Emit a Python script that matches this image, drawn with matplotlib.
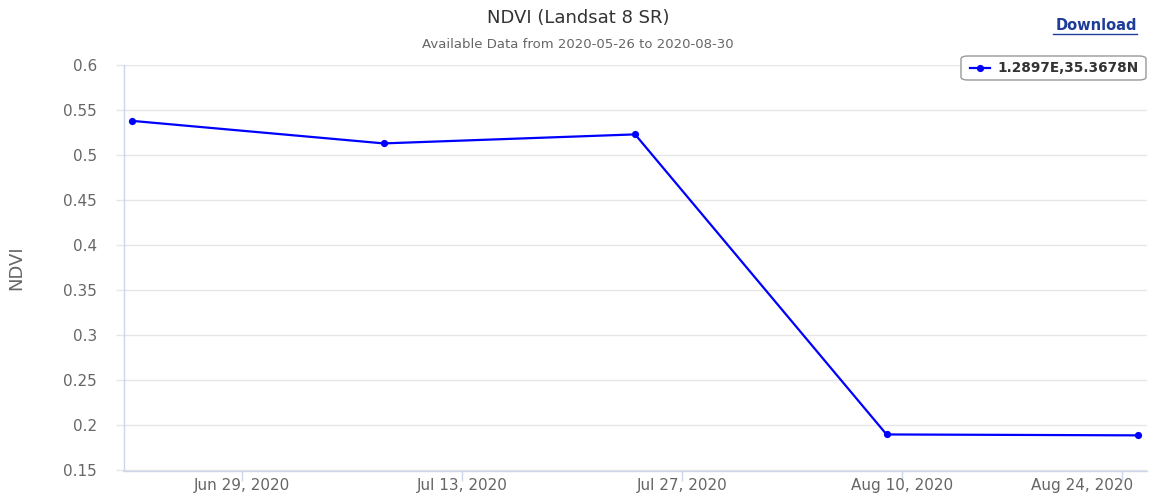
import matplotlib
matplotlib.use("Agg")
import matplotlib.pyplot as plt
import matplotlib.dates as mdates
import matplotlib.transforms as mtransforms
from matplotlib.lines import Line2D
from matplotlib.patches import FancyBboxPatch
from matplotlib.ticker import FuncFormatter, MultipleLocator
import numpy as np
import pandas as pd

## Data
dates = ["2020-06-22", "2020-07-08", "2020-07-24", "2020-08-09", "2020-08-25"]
ndvi = [0.538, 0.513, 0.523, 0.190, 0.189]
tick_dates = ["2020-06-29", "2020-07-13", "2020-07-27", "2020-08-10", "2020-08-24"]
series_name = "1.2897E,35.3678N"
title = "NDVI (Landsat 8 SR)"
subtitle = "Available Data from 2020-05-26 to 2020-08-30"

W, H = 1152, 493
plt.rcParams["font.family"] = ["DejaVu Sans"]

fig = plt.figure(figsize=(W / 100, H / 100), dpi=100)
fig.patch.set_facecolor("white")

# plot area in pixels: left 123.5, right 1147, top 65, bottom 470.5
left, right, top, bottom = 123.5, 1147, 65, 470.5
ax = fig.add_axes([left / W, 1 - bottom / H, (right - left) / W, (bottom - top) / H])

x = pd.to_datetime(dates)
ax.plot(x, ndvi, color="#0000ff", linewidth=1.6, marker="o", markersize=5.2,
        markeredgewidth=0, zorder=3)

# axes limits
x0 = mdates.date2num(x[0]) - 0.55
x1 = mdates.date2num(x[-1]) + 0.57
ax.set_xlim(x0, x1)
ax.set_ylim(0.15, 0.6)

# y axis
ax.yaxis.set_major_locator(MultipleLocator(0.05))
ax.yaxis.set_major_formatter(FuncFormatter(lambda v, p: "%g" % round(v, 2)))
ax.grid(axis="y", color="#e6e6e6", linewidth=1.0, zorder=0)
ax.tick_params(axis="y", length=6, width=1, color="#e6e6e6", pad=13,
               labelsize=11, labelcolor="#666666")
ax.set_ylabel("NDVI", fontsize=13, color="#666666", labelpad=0)
ax.yaxis.set_label_coords(-(left - 25) / (right - left), 0.5)

# x axis
ax.set_xticks(mdates.date2num(pd.to_datetime(tick_dates)))
ax.xaxis.set_major_formatter(mdates.DateFormatter("%b %d, %Y"))
ax.tick_params(axis="x", length=7, width=1, color="#ccd6eb", pad=-1.5,
               labelsize=11, labelcolor="#666666")
last = ax.get_xticklabels()[-1]
last.set_transform(last.get_transform() +
                   mtransforms.ScaledTranslation(-40 / 100, 0, fig.dpi_scale_trans))

for s in ["top", "right"]:
    ax.spines[s].set_visible(False)
ax.spines["left"].set_color("#ccd6eb")
ax.spines["bottom"].set_color("#ccd6eb")
ax.spines["left"].set_linewidth(1)
ax.spines["bottom"].set_linewidth(1)

# titles
fig.text(578 / W, 1 - 18 / H, title, ha="center", va="center", fontsize=13, color="#333333")
fig.text(578 / W, 1 - 45 / H, subtitle, ha="center", va="center", fontsize=9.5, color="#666666")

# Download link
fig.text(1137 / W, 1 - 26 / H, "Download", ha="right", va="center", fontsize=10.5,
         fontweight="bold", color="#1f3c99")
fig.add_artist(Line2D([1053 / W, 1137 / W], [1 - 34 / H, 1 - 34 / H], color="#1f3c99",
                      linewidth=1))

# legend box
box = FancyBboxPatch((961 / W, 1 - 80 / H), (1146 - 961) / W, 24 / H,
                     boxstyle="round,pad=0,rounding_size=0.006", transform=fig.transFigure,
                     facecolor="white", edgecolor="#999999", linewidth=1)
fig.add_artist(box)
fig.add_artist(Line2D([970 / W, 990 / W], [1 - 68 / H, 1 - 68 / H], color="#0000ff",
                      linewidth=1.6))
fig.add_artist(Line2D([980 / W], [1 - 68 / H], color="#0000ff", marker="o",
                      markersize=5.2, markeredgewidth=0))
fig.text(997 / W, 1 - 68 / H, series_name, ha="left", va="center", fontsize=9.8,
         fontweight="bold", color="#333333")

fig.savefig("out.png", dpi=100)
